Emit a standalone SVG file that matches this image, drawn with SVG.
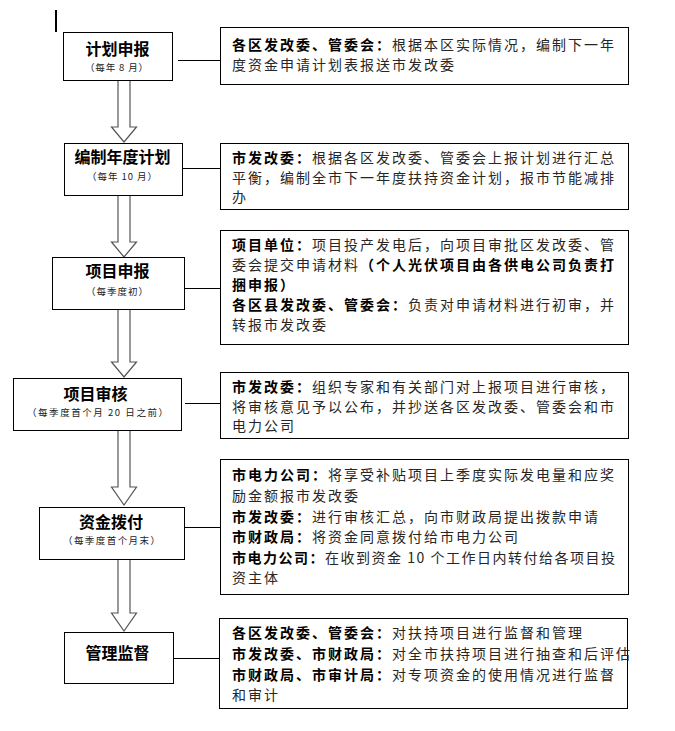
<svg xmlns="http://www.w3.org/2000/svg" width="675" height="731" viewBox="0 0 675 731">
<style>
.box{fill:#fff;stroke:#000;stroke-width:1}
.t{font-family:"Noto Sans CJK SC","Noto Sans",sans-serif;font-weight:700;font-size:16px;text-anchor:middle;fill:#000}
.s{font-family:"Noto Sans CJK SC","Noto Sans",sans-serif;font-size:9.5px;text-anchor:middle;fill:#222}
.d{font-family:"Noto Sans CJK SC","Noto Sans",sans-serif;font-size:14px;letter-spacing:2px;fill:#262626}
.b{font-weight:700;fill:#000}
.arrow{fill:#fff;stroke:#555;stroke-width:1.2}
.conn{stroke:#000;stroke-width:1;fill:none}
</style>
<rect x="55" y="10" width="2" height="22" fill="#000"/>
<g id="connectors">
<polygon class="arrow" points="118,80 130,80 130,127 136.5,127 124,142 111.5,127 118,127"/>
<polygon class="arrow" points="118,195 130,195 130,242 136.5,242 124,257 111.5,242 118,242"/>
<polygon class="arrow" points="118,309 130,309 130,362 136.5,362 124,377 111.5,362 118,362"/>
<polygon class="arrow" points="118,430 130,430 130,487 136.5,487 124,505 111.5,487 118,487"/>
<polygon class="arrow" points="118,559 130,559 130,613 136.5,613 124,631 111.5,613 118,613"/>
<line class="conn" x1="178" y1="60.5" x2="220" y2="60.5"/>
<line class="conn" x1="182" y1="168.5" x2="220" y2="168.5"/>
<line class="conn" x1="184" y1="288.5" x2="220" y2="288.5"/>
<line class="conn" x1="185" y1="403.5" x2="220" y2="403.5"/>
<line class="conn" x1="184" y1="527.5" x2="220" y2="527.5"/>
<line class="conn" x1="173" y1="658.5" x2="219" y2="658.5"/>
</g>
<g id="n1">
<rect class="box" x="63.5" y="32.5" width="109" height="48"/>
<text class="t" x="117.5" y="55">计划申报</text>
<text class="s" x="116.5" y="70.5" textLength="63">（每年 8 月）</text>
</g>
<g id="n2">
<rect class="box" x="64.5" y="143.5" width="118" height="52"/>
<text class="t" x="122.5" y="163">编制年度计划</text>
<text class="s" x="122" y="179.5" textLength="70">（每年 10 月）</text>
</g>
<g id="n3">
<rect class="box" x="52.5" y="257.5" width="132" height="52"/>
<text class="t" x="117.5" y="277">项目申报</text>
<text class="s" x="117" y="294.5" textLength="62">（每季度初）</text>
</g>
<g id="n4">
<rect class="box" x="13.5" y="378.5" width="168" height="52"/>
<text class="t" x="95.5" y="400">项目审核</text>
<text class="s" x="97.5" y="415.5" textLength="141">（每季度首个月 20 日之前）</text>
</g>
<g id="n5">
<rect class="box" x="39.5" y="507.5" width="145" height="52"/>
<text class="t" x="111" y="528">资金拨付</text>
<text class="s" x="111.5" y="543.5" textLength="97">（每季度首个月末）</text>
</g>
<g id="n6">
<rect class="box" x="64.5" y="632.5" width="109" height="51"/>
<text class="t" x="117.5" y="659">管理监督</text>
</g>
<g id="r1">
<rect class="box" x="220.5" y="27.5" width="408" height="57"/>
<text class="d" x="232" y="50"><tspan class="b">各区发改委、管委会：</tspan>根据本区实际情况，编制下一年</text>
<text class="d" x="232" y="70">度资金申请计划表报送市发改委</text>
</g>
<g id="r2">
<rect class="box" x="220.5" y="143.5" width="408" height="66"/>
<text class="d" x="232" y="163"><tspan class="b">市发改委：</tspan>根据各区发改委、管委会上报计划进行汇总</text>
<text class="d" x="232" y="183">平衡，编制全市下一年度扶持资金计划，报市节能减排</text>
<text class="d" x="232" y="202">办</text>
</g>
<g id="r3">
<rect class="box" x="220.5" y="230.5" width="408" height="114"/>
<text class="d" x="232" y="250"><tspan class="b">项目单位：</tspan>项目投产发电后，向项目审批区发改委、管</text>
<text class="d" x="232" y="270">委会提交申请材料<tspan class="b">（个人光伏项目由各供电公司负责打</tspan></text>
<text class="d" x="232" y="290"><tspan class="b">捆申报）</tspan></text>
<text class="d" x="232" y="310"><tspan class="b">各区县发改委、管委会：</tspan>负责对申请材料进行初审，并</text>
<text class="d" x="232" y="330">转报市发改委</text>
</g>
<g id="r4">
<rect class="box" x="220.5" y="372.5" width="408" height="66"/>
<text class="d" x="232" y="392"><tspan class="b">市发改委：</tspan>组织专家和有关部门对上报项目进行审核，</text>
<text class="d" x="232" y="412">将审核意见予以公布，并抄送各区发改委、管委会和市</text>
<text class="d" x="232" y="431">电力公司</text>
</g>
<g id="r5">
<rect class="box" x="220.5" y="459.5" width="408" height="135"/>
<text class="d" x="232" y="480"><tspan class="b">市电力公司：</tspan>将享受补贴项目上季度实际发电量和应奖</text>
<text class="d" x="232" y="501">励金额报市发改委</text>
<text class="d" x="232" y="522"><tspan class="b">市发改委：</tspan>进行审核汇总，向市财政局提出拨款申请</text>
<text class="d" x="232" y="542"><tspan class="b">市财政局：</tspan>将资金同意拨付给市电力公司</text>
<text class="d" x="232" y="563" textLength="385" lengthAdjust="spacing"><tspan class="b">市电力公司：</tspan>在收到资金 10 个工作日内转付给各项目投</text>
<text class="d" x="232" y="583">资主体</text>
</g>
<g id="r6">
<rect class="box" x="219.5" y="618.5" width="408" height="90"/>
<text class="d" x="232" y="638"><tspan class="b">各区发改委、管委会：</tspan>对扶持项目进行监督和管理</text>
<text class="d" x="232" y="659"><tspan class="b">市发改委、市财政局：</tspan>对全市扶持项目进行抽查和后评估</text>
<text class="d" x="232" y="680"><tspan class="b">市财政局、市审计局：</tspan>对专项资金的使用情况进行监督</text>
<text class="d" x="232" y="700">和审计</text>
</g>
</svg>
